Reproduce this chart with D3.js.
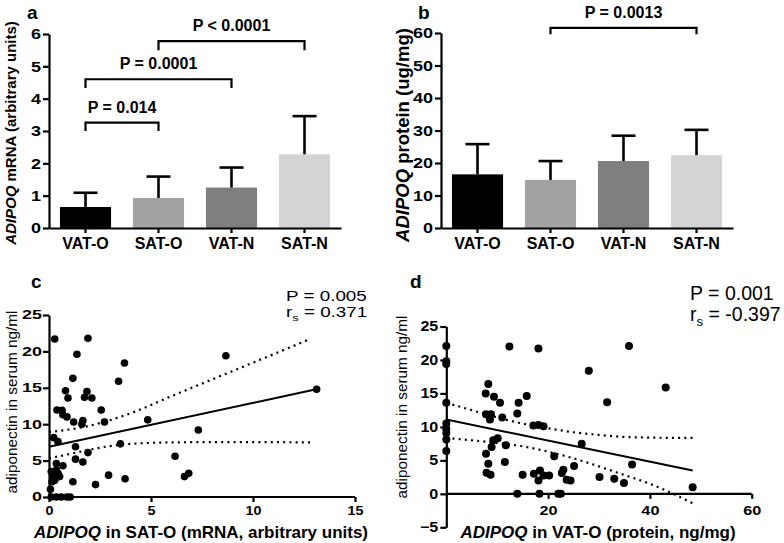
<!DOCTYPE html>
<html><head><meta charset="utf-8">
<script src="https://cdn.jsdelivr.net/npm/d3@7"></script>
<style>
body{margin:0;background:#fff}
svg{display:block}
text{font-family:"Liberation Sans",Arial,Helvetica,sans-serif}
</style>
</head><body>
<svg id="fig" width="784" height="543"></svg>
<script>
// ---------------- DATA ----------------
const categories = ["VAT-O", "SAT-O", "VAT-N", "SAT-N"];
const barColors = ["#000000", "#a2a2a2", "#7f7f7f", "#d4d4d4"];

// panel a: ADIPOQ mRNA (mean, SD)
const mrnaMean = [0.65, 0.93, 1.25, 2.28];
const mrnaSD   = [0.44, 0.66, 0.62, 1.18];
const mrnaTicks = [0, 1, 2, 3, 4, 5, 6];
const mrnaBrackets = [
  {from: "VAT-O", to: "SAT-O", y: 3.26, legTo: 3.0, label: "P = 0.014"},
  {from: "VAT-O", to: "VAT-N", y: 4.6, legTo: 4.33, label: "P = 0.0001"},
  {from: "SAT-O", to: "SAT-N", y: 5.78, legTo: 5.5, label: "P < 0.0001"}
];

// panel b: ADIPOQ protein (mean, SD)
const protMean = [16.5, 14.8, 20.6, 22.4];
const protSD   = [9.3, 5.8, 7.8, 7.8];
const protTicks = [0, 10, 20, 30, 40, 50, 60];
const protBrackets = [
  {from: "SAT-O", to: "SAT-N", y: 61.6, legTo: 59.6, label: "P = 0.0013"}
];

// panel c: serum adiponectin vs ADIPOQ mRNA in SAT-O
const cPoints = [
  [0.28,21.7],[1.91,21.8],[1.37,19.6],[1.17,16.3],[0.81,14.6],[0.93,13.6],[1.86,14.5],[1.74,13.7],
  [2.10,13.6],[0.39,11.95],[0.64,11.9],[0.68,11.3],[0.88,11.0],[2.56,11.95],[1.21,10.3],[1.66,10.5],
  [1.61,10.0],[2.72,10.3],[0.23,8.15],[0.44,7.6],[1.30,6.9],[1.91,6.1],[1.30,5.2],[1.66,4.8],
  [0.36,4.6],[0.68,4.3],[0.11,3.5],[0.20,3.0],[0.28,2.3],[0.44,3.25],[0.52,2.8],[0.15,2.1],
  [0.36,3.7],[1.17,2.1],[0.07,1.05],[2.92,3.0],[2.28,1.7],[3.73,2.5],[3.50,7.3],[3.41,15.9],
  [3.70,18.4],[0.11,0],[0.36,0],[0.60,0],[0.88,0],[1.04,0],[8.67,19.4],[4.84,10.6],
  [7.32,9.2],[6.18,5.6],[6.64,2.8],[6.85,3.25],[13.12,14.8]
];
const cFit   = [[0, 6.9], [13.1, 14.8]];
const cUpper = [[0,8.9],[2,9.8],[4,11.5],[6,13.85],[8,16.15],[10,18.45],[12.8,21.7]];
const cLower = [[0,5.3],[1,5.9],[2,6.5],[3,7.0],[4,7.3],[6,7.5],[9,7.55],[12.8,7.5]];
const cXTicks = [0, 5, 10, 15];
const cYTicks = [0, 5, 10, 15, 20, 25];

// panel d: serum adiponectin vs ADIPOQ protein in VAT-O
const dPoints = [
  [0,22.1],[0,19.8],[0,19.4],[0,13.6],[0,10.5],[0,9.7],[0,9.1],[0,8.1],[0,6.4],
  [12.4,22.0],[8.25,16.4],[7.74,15.0],[9.37,14.5],[10.55,13.6],[7.8,11.9],[8.78,11.9],[8.58,11.1],
  [11.0,11.4],[13.95,12.0],[14.2,13.6],[15.8,14.6],[10.1,8.3],[9.23,8.0],[8.9,7.0],[11.7,7.25],
  [7.8,6.0],[8.25,4.5],[11.5,4.75],[7.9,3.15],[8.7,2.85],[15.0,2.85],[13.95,0],
  [18.1,21.7],[35.9,22.1],[28.0,18.4],[43.1,15.9],[31.6,13.7],[17.1,10.2],[18.1,10.3],[19.1,10.1],
  [26.6,7.5],[21.2,5.6],[25.1,4.15],[23.0,3.6],[22.7,3.1],[17.2,3.0],[18.4,3.5],[19.1,2.75],
  [20.2,2.75],[18.1,2.0],[23.65,2.1],[24.4,2.0],[30.1,2.5],[33.0,2.25],[34.9,1.6],[36.5,4.4],
  [48.4,1.0],[18.3,0],[22.0,0],[22.5,0]
];
const dFit   = [[0, 11.1], [48.4, 3.5]];
const dUpper = [[0,13.6],[5,12.5],[10,11.4],[15,10.5],[20,9.8],[25,9.2],[30,8.8],[35,8.5],[40,8.4],[48.4,8.35]];
const dLower = [[0,8.35],[5,8.0],[10,7.6],[15,7.1],[20,6.3],[25,5.3],[30,4.1],[35,2.8],[40,1.5],[48.4,-1.4]];
const dXTicks = [20, 40, 60];
const dYTicks = [-5, 0, 5, 10, 15, 20, 25];

// ---------------- DRAWING ----------------
const svg = d3.select("#fig");
const AXW = 2.2;
const intFmt = d3.format("d");

function styleAxis(sel) {
  sel.select(".domain").attr("stroke", "#000").attr("stroke-width", AXW);
  sel.selectAll(".tick line").attr("stroke", "#000").attr("stroke-width", AXW);
  sel.selectAll("text").attr("fill", "#000").attr("font-weight", "bold");
}

function scaleTickText(sel, size, sx, side, pad) {
  sel.selectAll(".tick text").attr("font-size", size).attr("font-family", '"Liberation Sans",Arial,sans-serif');
  if (side === "left") {
    sel.selectAll(".tick text").attr("x", -pad / sx).attr("transform", `scale(${sx},1)`);
  } else {
    sel.selectAll(".tick text").attr("transform", `scale(${sx},1)`);
  }
}

function letter(x, y, t) {
  svg.append("text").attr("x", x).attr("y", y).attr("font-size", 19).attr("font-weight", "bold").text(t);
}

function barPanel(o) {
  const g = svg.append("g");
  const x = d3.scaleBand().domain(categories).range(o.xRange).paddingInner(0.3).paddingOuter(0.15);
  const y = d3.scaleLinear().domain(o.yDomain).range(o.yRange);

  g.selectAll("rect.bar").data(categories).join("rect")
    .attr("x", d => x(d)).attr("width", x.bandwidth())
    .attr("y", (d, i) => y(o.mean[i])).attr("height", (d, i) => y(0) - y(o.mean[i]))
    .attr("fill", (d, i) => barColors[i]);

  // error bars (upper only)
  const eb = g.selectAll("g.eb").data(categories).join("g");
  eb.append("line")
    .attr("x1", d => x(d) + x.bandwidth() / 2).attr("x2", d => x(d) + x.bandwidth() / 2)
    .attr("y1", (d, i) => y(o.mean[i])).attr("y2", (d, i) => y(o.mean[i] + o.sd[i]))
    .attr("stroke", "#000").attr("stroke-width", 2.6);
  eb.append("line")
    .attr("x1", d => x(d) + x.bandwidth() / 2 - 12).attr("x2", d => x(d) + x.bandwidth() / 2 + 12)
    .attr("y1", (d, i) => y(o.mean[i] + o.sd[i])).attr("y2", (d, i) => y(o.mean[i] + o.sd[i]))
    .attr("stroke", "#000").attr("stroke-width", 2.6);

  const ya = g.append("g").attr("transform", `translate(${o.xRange[0]},0)`)
    .call(d3.axisLeft(y).tickValues(o.ticks).tickFormat(intFmt).tickSize(6).tickSizeOuter(0));
  styleAxis(ya);
  scaleTickText(ya, 15, 1.2, "left", 8);

  const xa = g.append("g").attr("transform", `translate(0,${y(0)})`)
    .call(d3.axisBottom(x).tickSize(5).tickSizeOuter(0).tickPadding(5));
  styleAxis(xa);
  xa.selectAll(".tick text").attr("font-size", 16);

  // brackets
  o.brackets.forEach(b => {
    const x1 = x(b.from) + x.bandwidth() / 2, x2 = x(b.to) + x.bandwidth() / 2;
    const yy = y(b.y), yl = y(b.legTo);
    g.append("path").attr("d", `M${x1},${yl}V${yy}H${x2}V${yl}`)
      .attr("fill", "none").attr("stroke", "#000").attr("stroke-width", 2.2);
    g.append("text").attr("x", (x1 + x2) / 2).attr("y", yy - 10)
      .attr("text-anchor", "middle").attr("font-size", 16).attr("font-weight", "bold").text(b.label);
  });

  // y label
  const t = g.append("text").attr("transform", `translate(${o.ylabPos[0]},${o.ylabPos[1]}) rotate(-90)`)
    .attr("text-anchor", "middle").attr("font-size", o.ylabSize).attr("font-weight", "bold");
  t.append("tspan").attr("font-style", "italic").text("ADIPOQ");
  t.append("tspan").text(o.ylabRest);
}

function scatterPanel(o) {
  const g = svg.append("g");
  const x = d3.scaleLinear().domain(o.xDomain).range(o.xRange);
  const y = d3.scaleLinear().domain(o.yDomain).range(o.yRange);

  const ya = g.append("g").attr("transform", `translate(${x(0)},0)`)
    .call(d3.axisLeft(y).tickValues(o.yTicks).tickFormat(intFmt).tickSize(6).tickSizeOuter(0));
  styleAxis(ya);
  scaleTickText(ya, o.yTickSize, o.yTickSx, "left", o.yTickPad);

  const xa = g.append("g").attr("transform", `translate(0,${y(0)})`)
    .call(d3.axisBottom(x).tickValues(o.xTicks).tickFormat(intFmt).tickSize(5).tickSizeOuter(0).tickPadding(o.xTickPad));
  xa.select(".domain").attr("d", `M${o.xRange[0]},0H${o.xRange[1]}`);
  styleAxis(xa);
  scaleTickText(xa, o.xTickSize, o.xTickSx, "bottom", 0);

  const line = d3.line().x(d => x(d[0])).y(d => y(d[1])).curve(d3.curveMonotoneX);
  g.append("path").attr("d", line(o.fit)).attr("fill", "none").attr("stroke", "#000").attr("stroke-width", 2);
  [o.upper, o.lower].forEach(band => {
    g.append("path").attr("d", line(band)).attr("fill", "none").attr("stroke", "#000")
      .attr("stroke-width", 2.2).attr("stroke-dasharray", "2,4.2");
  });

  g.selectAll("circle").data(o.points).join("circle")
    .attr("cx", d => x(d[0])).attr("cy", d => y(d[1])).attr("r", o.r).attr("fill", "#000");

  // axis labels
  const xl = g.append("text").attr("x", o.xlabPos[0]).attr("y", o.xlabPos[1])
    .attr("text-anchor", "middle").attr("font-size", 17).attr("font-weight", "bold");
  xl.append("tspan").attr("font-style", "italic").text("ADIPOQ");
  xl.append("tspan").text(o.xlabRest);

  g.append("text").attr("transform", `translate(${o.ylabPos[0]},${o.ylabPos[1]}) rotate(-90)`)
    .attr("text-anchor", "middle").attr("font-size", 15.3).text("adiponectin in serum ng/ml");

  // stats annotation
  const a = g.append("g").attr("transform", `translate(${o.annPos[0]},${o.annPos[1]}) scale(${o.annSx},1)`);
  a.append("text").attr("x", 0).attr("y", 0).attr("font-size", o.annSize).text(o.pText);
  const r = a.append("text").attr("x", 0).attr("y", o.annGap).attr("font-size", o.annSize);
  r.append("tspan").text("r");
  r.append("tspan").attr("dy", o.annSize * 0.25).attr("font-size", o.annSize * 0.68).text("s");
  r.append("tspan").attr("dy", -o.annSize * 0.25).text(" = " + o.rText);
}

barPanel({
  xRange: [49, 341], yDomain: [0, 6], yRange: [228, 34], mean: mrnaMean, sd: mrnaSD,
  ticks: mrnaTicks, brackets: mrnaBrackets, ylabPos: [16, 133], ylabSize: 15, ylabRest: " mRNA (arbitrary units)"
});
barPanel({
  xRange: [441, 733], yDomain: [0, 60], yRange: [228, 33], mean: protMean, sd: protSD,
  ticks: protTicks, brackets: protBrackets, ylabPos: [409, 135], ylabSize: 18.5, ylabRest: " protein (ug/mg)"
});

scatterPanel({
  xDomain: [0, 15], xRange: [49, 355], yDomain: [0, 25], yRange: [497, 315],
  xTicks: cXTicks, yTicks: cYTicks, points: cPoints, fit: cFit, upper: cUpper, lower: cLower, r: 3.8,
  yTickSize: 12, yTickSx: 1.5, yTickPad: 7, xTickSize: 13, xTickSx: 1.1, xTickPad: 4,
  xlabPos: [201, 538], xlabRest: " in SAT-O (mRNA, arbitrary units)", ylabPos: [16.5, 402],
  annPos: [286, 300.7], annSx: 1.3, annSize: 14.5, annGap: 16.5, pText: "P = 0.005", rText: "0.371"
});

scatterPanel({
  xDomain: [0, 60], xRange: [446.3, 751.7], yDomain: [-5, 25], yRange: [527.3, 326.5],
  xTicks: dXTicks, yTicks: dYTicks, points: dPoints, fit: dFit, upper: dUpper, lower: dLower, r: 4,
  yTickSize: 14, yTickSx: 1.15, yTickPad: 8, xTickSize: 12.5, xTickSx: 1.3, xTickPad: 7,
  xlabPos: [598, 538], xlabRest: " in VAT-O (protein, ng/mg)", ylabPos: [406.5, 407],
  annPos: [690, 300], annSx: 1.0, annSize: 19.5, annGap: 21, pText: "P = 0.001", rText: "-0.397"
});

letter(27, 19, "a");
letter(418, 19, "b");
letter(31, 288, "c");
letter(410, 288, "d");
</script>
</body></html>
